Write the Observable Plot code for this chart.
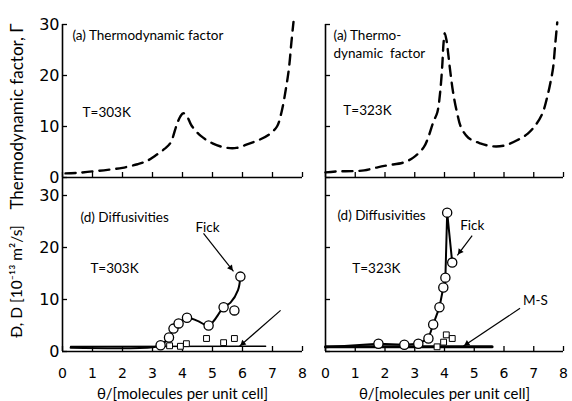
<!DOCTYPE html>
<html><head><meta charset="utf-8">
<script src="https://cdn.jsdelivr.net/npm/d3@7"></script>
<script src="https://cdn.jsdelivr.net/npm/@observablehq/plot@0.6"></script>
<style>
html,body{margin:0;padding:0;background:#fff;}
#wrap{position:relative;width:572px;height:401px;overflow:hidden;background:#fff;}
</style></head><body><div id="wrap"></div>
<script>
// ---- ticks & labels ----
const xTicks = [0,1,2,3,4,5,6,7,8];
const yTicks = [0,10,20,30];
const xLabel = "θ/[molecules per unit cell]";
const gammaLabel = "Thermodynamic factor, Γ";
const diffLabel = "Đ, D [10⁻¹³ m²/s]";

// ---- thermodynamic factor, 303 K ----
const gammaTheta303 = [0.1,0.5,1.0,1.5,2.0,2.5,2.8,3.1,3.4,3.6,3.8,3.93,4.03,4.15,4.3,4.6,5.0,5.4,5.8,6.2,6.6,6.9,7.15,7.3,7.45,7.55,7.63,7.7];
const gamma303      = [0.8,0.9,1.2,1.5,1.9,2.6,3.2,4.3,5.6,6.8,10.2,12.0,12.6,12.0,10.2,8.2,6.7,5.9,5.8,6.6,7.5,8.5,10.0,12.8,17.5,21.5,26.5,30.5];
// ---- thermodynamic factor, 323 K ----
const gammaTheta323 = [0,0.4,0.9,1.3,1.75,2.1,2.6,2.95,3.3,3.45,3.62,3.76,3.85,3.92,3.97,4.01,4.07,4.13,4.2,4.3,4.43,4.56,4.8,5.2,5.64,6.04,6.44,6.8,7.1,7.3,7.45,7.56,7.65,7.72,7.79];
const gamma323      = [1.0,1.2,1.25,1.4,2.0,2.4,2.9,3.9,5.9,7.8,10.8,12.8,16.5,21.5,26.5,28.3,26.8,24.0,20.5,16.3,12.5,9.8,7.8,6.7,6.1,6.3,7.3,8.6,10.6,12.7,15.7,18.6,21.5,26.0,30.4];

// ---- diffusivities, 303 K ----
const fickTheta303 = [3.27,3.55,3.7,3.87,4.15,4.87,5.37,5.73,5.93];
const fick303      = [1.2,2.7,4.4,5.4,6.5,5.0,8.5,7.9,14.4];
const fickCurveTheta303 = [0.27,3.0,3.27,3.55,3.7,3.87,4.15,4.5,4.87,5.37,5.6,5.85,5.93];
const fickCurve303      = [0.7,0.8,1.2,2.7,4.4,5.4,6.5,5.9,5.0,8.5,9.4,11.8,14.4];
const msTheta303 = [3.57,3.93,4.13,4.8,5.37,5.73];
const ms303      = [1.1,1.0,1.5,2.5,1.7,2.5];
const msLineTheta303 = [0.27,6.77];
const msLine303      = [0.95,1.0];

// ---- diffusivities, 323 K ----
const fickTheta323 = [1.78,2.65,3.12,3.46,3.62,3.83,3.96,4.03,4.09,4.26];
const fick323      = [1.5,1.3,1.5,2.5,5.2,8.5,12.3,14.2,26.7,17.1];
const fickLineTheta323 = [0,1.78,2.65,3.12,3.46,3.62,3.83,3.96,4.03,4.09,4.26];
const fickLine323      = [0.8,1.5,1.3,1.5,2.5,5.2,8.5,12.3,14.2,26.7,17.1];
const msTheta323 = [3.75,3.97,4.06,4.26];
const ms323      = [0.9,1.8,3.2,2.5];
const msLineTheta323 = [0,5.6];
const msLine323      = [0.9,0.9];

// ---- annotations ----
const notesTL = [{x:0.33,y:27.8,t:"(a) Thermodynamic factor"},{x:0.67,y:12.7,t:"T=303K"}];
const notesTR = [{x:0.27,y:27.8,t:"(a) Thermo-"},{x:0.27,y:24.3,t:"dynamic  factor"},{x:0.6,y:13.1,t:"T=323K"}];
const notesBL = [{x:0.6,y:25.8,t:"(d) Diffusivities"},{x:0.93,y:16,t:"T=303K"},{x:4.43,y:23.8,t:"Fick"}];
const notesBR = [{x:0.4,y:26.2,t:"(d) Diffusivities"},{x:0.9,y:16,t:"T=323K"},{x:4.53,y:24.2,t:"Fick"},{x:6.64,y:9.8,t:"M-S"}];
const arrowsBL = [{x1:4.7,y1:22.7,x2:5.7,y2:15.4},{x1:7.27,y1:7.9,x2:5.9,y2:1.0}];
const arrowsBR = [{x1:4.93,y1:22.3,x2:4.43,y2:18.5},{x1:6.54,y1:8.3,x2:4.63,y2:1.0}];

const zip = (xs, ys) => xs.map((x, i) => ({x, y: ys[i]}));
const FONT = "Lato, 'Open Sans', sans-serif";
const NUMFONT = "'DejaVu Sans', sans-serif";

const cols = [{left:0, width:312, ml:62, mr:10}, {left:312, width:260, ml:13, mr:9}];
const rows = [{mt:24, mb:224, range:[177,24]}, {mt:177, mb:50, range:[351,195]}];

function arrowMarks(arrows, col, row) {
  const C = cols[col], R = rows[row];
  const xs = d3.scaleLinear([0,8],[C.ml, C.width - C.mr]);
  const ys = d3.scaleLinear([0,30], R.range);
  const heads = arrows.map(a => {
    const dx = xs(a.x2) - xs(a.x1), dy = ys(a.y2) - ys(a.y1);
    const len = Math.hypot(dx, dy), ux = dx/len, uy = dy/len;
    const back = 4.6;
    return {x: xs.invert(xs(a.x2) - ux*back), y: ys.invert(ys(a.y2) - uy*back),
            rot: Math.atan2(dy, dx) * 180 / Math.PI + 90};
  });
  return [
    Plot.link(arrows, {x1:"x1", y1:"y1", x2:"x2", y2:"y2", stroke:"black", strokeWidth:1.2}),
    Plot.dot(heads, {x:"x", y:"y", symbol:"triangle2", r:3, fill:"black", stroke:"none", rotate:"rot"})
  ];
}

function panel(col, row, marks) {
  const C = cols[col], R = rows[row];
  const svg = Plot.plot({
    width: C.width, height: 401,
    marginLeft: C.ml, marginRight: C.mr, marginTop: R.mt, marginBottom: R.mb,
    x: {domain:[0,8]},
    y: {domain:[0,30], range: R.range},
    style: {background:"transparent", fontFamily: FONT, overflow:"visible", color:"black"},
    marks: [
      Plot.ruleX([0], {stroke:"black", strokeWidth:1.6}),
      Plot.ruleY([0], {stroke:"black", strokeWidth:1.6}),
      Plot.axisY(yTicks, {tickSize:-5, tickPadding:8, strokeWidth:1.3, fontSize:16, fontFamily:NUMFONT,
        tickFormat: col === 0 ? (d => String(d)) : (() => ""), label:null}),
      Plot.axisX(xTicks, {tickSize:-5, tickPadding:22, strokeWidth:1.3, fontSize:14, fontFamily:NUMFONT,
        tickFormat: row === 1 ? (d => String(d)) : (() => ""), label:null}),
      ...marks
    ]
  });
  svg.style.position = "absolute";
  svg.style.left = C.left + "px";
  svg.style.top = "0px";
  document.getElementById("wrap").appendChild(svg);
}

const textOpts = {x:"x", y:"y", text:"t", textAnchor:"start", fontSize:13.5, fontFamily:FONT, fill:"black"};
const dashed = {x:"x", y:"y", curve:"catmull-rom", stroke:"black", strokeWidth:2.4, strokeDasharray:"10,7"};
const yLabelOpts = {frameAnchor:"left", textAnchor:"middle", rotate:-90, dx:-45, fontFamily:FONT, fill:"black"};
const xLabelOpts = {frameAnchor:"bottom", textAnchor:"middle", dy:47, fontSize:15, fontFamily:FONT, fill:"black"};

// top-left
panel(0, 0, [
  Plot.line(zip(gammaTheta303, gamma303), dashed),
  Plot.text(notesTL, textOpts),
  Plot.text([gammaLabel], {...yLabelOpts, fontSize:17, dy:15.5})
]);
// top-right
panel(1, 0, [
  Plot.line(zip(gammaTheta323, gamma323), dashed),
  Plot.text(notesTR, textOpts)
]);
// bottom-left
panel(0, 1, [
  Plot.line(zip(msLineTheta303, msLine303), {x:"x", y:"y", stroke:"black", strokeWidth:1.5}),
  Plot.line(zip(fickCurveTheta303, fickCurve303), {x:"x", y:"y", curve:"catmull-rom", stroke:"black", strokeWidth:2}),
  Plot.dot(zip(msTheta303, ms303), {x:"x", y:"y", symbol:"square", r:3.3, fill:"white", stroke:"black", strokeWidth:1}),
  Plot.dot(zip(fickTheta303, fick303), {x:"x", y:"y", r:4.6, fill:"white", stroke:"black", strokeWidth:1.3}),
  ...arrowMarks(arrowsBL, 0, 1),
  Plot.text(notesBL, textOpts),
  Plot.text([diffLabel], {...yLabelOpts, fontSize:15.5, dy:17}),
  Plot.text([xLabel], xLabelOpts)
]);
// bottom-right
panel(1, 1, [
  Plot.line(zip(msLineTheta323, msLine323), {x:"x", y:"y", stroke:"black", strokeWidth:3}),
  Plot.line(zip(fickLineTheta323, fickLine323), {x:"x", y:"y", stroke:"black", strokeWidth:2}),
  Plot.dot(zip(msTheta323, ms323), {x:"x", y:"y", symbol:"square", r:3.3, fill:"white", stroke:"black", strokeWidth:1}),
  Plot.dot(zip(fickTheta323, fick323), {x:"x", y:"y", r:4.6, fill:"white", stroke:"black", strokeWidth:1.3}),
  ...arrowMarks(arrowsBR, 1, 1),
  Plot.text(notesBR, textOpts),
  Plot.text([xLabel], xLabelOpts)
]);
</script></body></html>
